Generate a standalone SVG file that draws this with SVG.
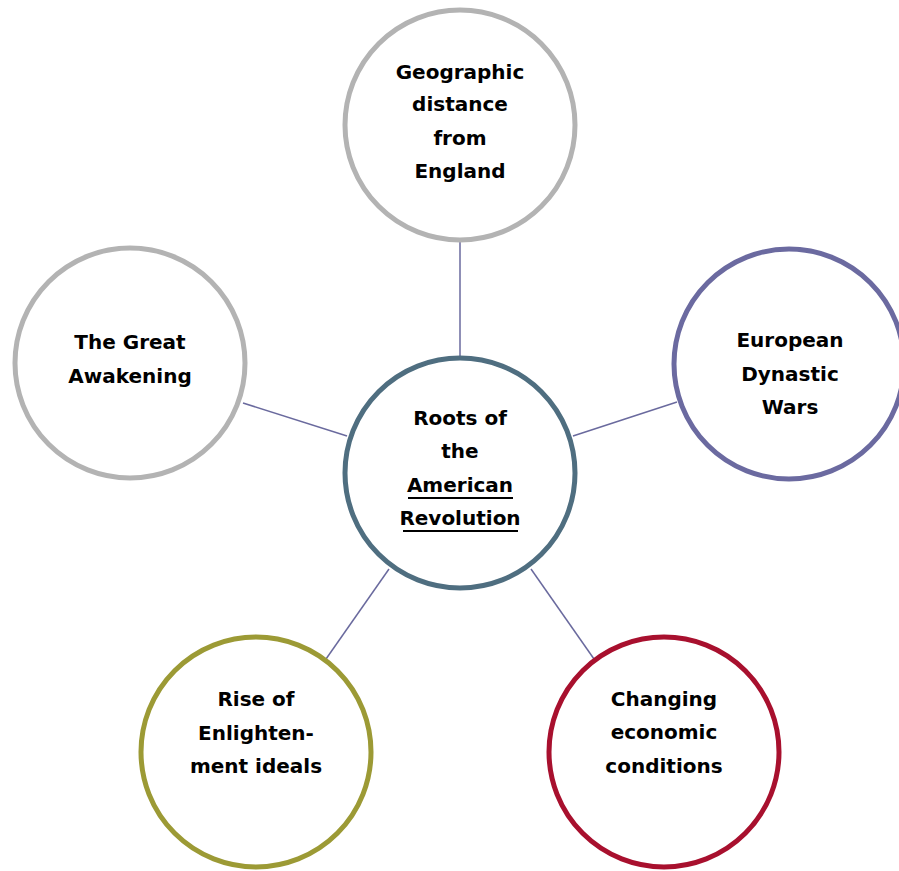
<svg xmlns="http://www.w3.org/2000/svg" width="899" height="871" viewBox="0 0 899 871">
  <style>
    .node { fill: #ffffff; stroke-width: 5; }
    .label { font-family: "DejaVu Sans", "Liberation Sans", sans-serif; font-weight: bold; font-size: 20px; fill: #000000; text-anchor: middle; dominant-baseline: central; }
    .link { stroke: #6a6a9e; stroke-width: 1.5; fill: none; }
    .ul { stroke: #000000; stroke-width: 2; }
  </style>
  <rect width="899" height="871" fill="#ffffff"/>
  <g id="connectors">
    <line class="link" x1="460" y1="242" x2="460" y2="356"/>
    <line class="link" x1="243" y1="403" x2="347" y2="436"/>
    <line class="link" x1="573" y1="436" x2="677" y2="402"/>
    <line class="link" x1="389" y1="569" x2="326" y2="659"/>
    <line class="link" x1="531" y1="569" x2="594" y2="659"/>
  </g>
  <g id="center">
    <circle class="node" cx="460" cy="473" r="115" stroke="#4f6e80" stroke-width="6"/>
    <text class="label" x="460" y="418">Roots of</text>
    <text class="label" x="460" y="451">the</text>
    <text class="label" x="460" y="485">American</text>
    <text class="label" x="460" y="518">Revolution</text>
    <line class="ul" x1="408" y1="498" x2="513" y2="498"/>
    <line class="ul" x1="403" y1="531" x2="518" y2="531"/>
  </g>
  <g id="geographic">
    <circle class="node" cx="460" cy="125" r="115" stroke="#b3b3b3"/>
    <text class="label" x="460" y="72">Geographic</text>
    <text class="label" x="460" y="104">distance</text>
    <text class="label" x="460" y="138">from</text>
    <text class="label" x="460" y="171">England</text>
  </g>
  <g id="european">
    <circle class="node" cx="789" cy="364" r="115" stroke="#6b6aa0"/>
    <text class="label" x="790" y="340">European</text>
    <text class="label" x="790" y="374">Dynastic</text>
    <text class="label" x="790" y="407">Wars</text>
  </g>
  <g id="economic">
    <circle class="node" cx="664" cy="752" r="115" stroke="#a8102e"/>
    <text class="label" x="664" y="699">Changing</text>
    <text class="label" x="664" y="732">economic</text>
    <text class="label" x="664" y="766">conditions</text>
  </g>
  <g id="enlightenment">
    <circle class="node" cx="256" cy="752" r="115" stroke="#9c9a35"/>
    <text class="label" x="256" y="699">Rise of</text>
    <text class="label" x="256" y="733">Enlighten-</text>
    <text class="label" x="256" y="766">ment ideals</text>
  </g>
  <g id="awakening">
    <circle class="node" cx="130" cy="363" r="115" stroke="#b3b3b3"/>
    <text class="label" x="130" y="342">The Great</text>
    <text class="label" x="130" y="376">Awakening</text>
  </g>
</svg>
